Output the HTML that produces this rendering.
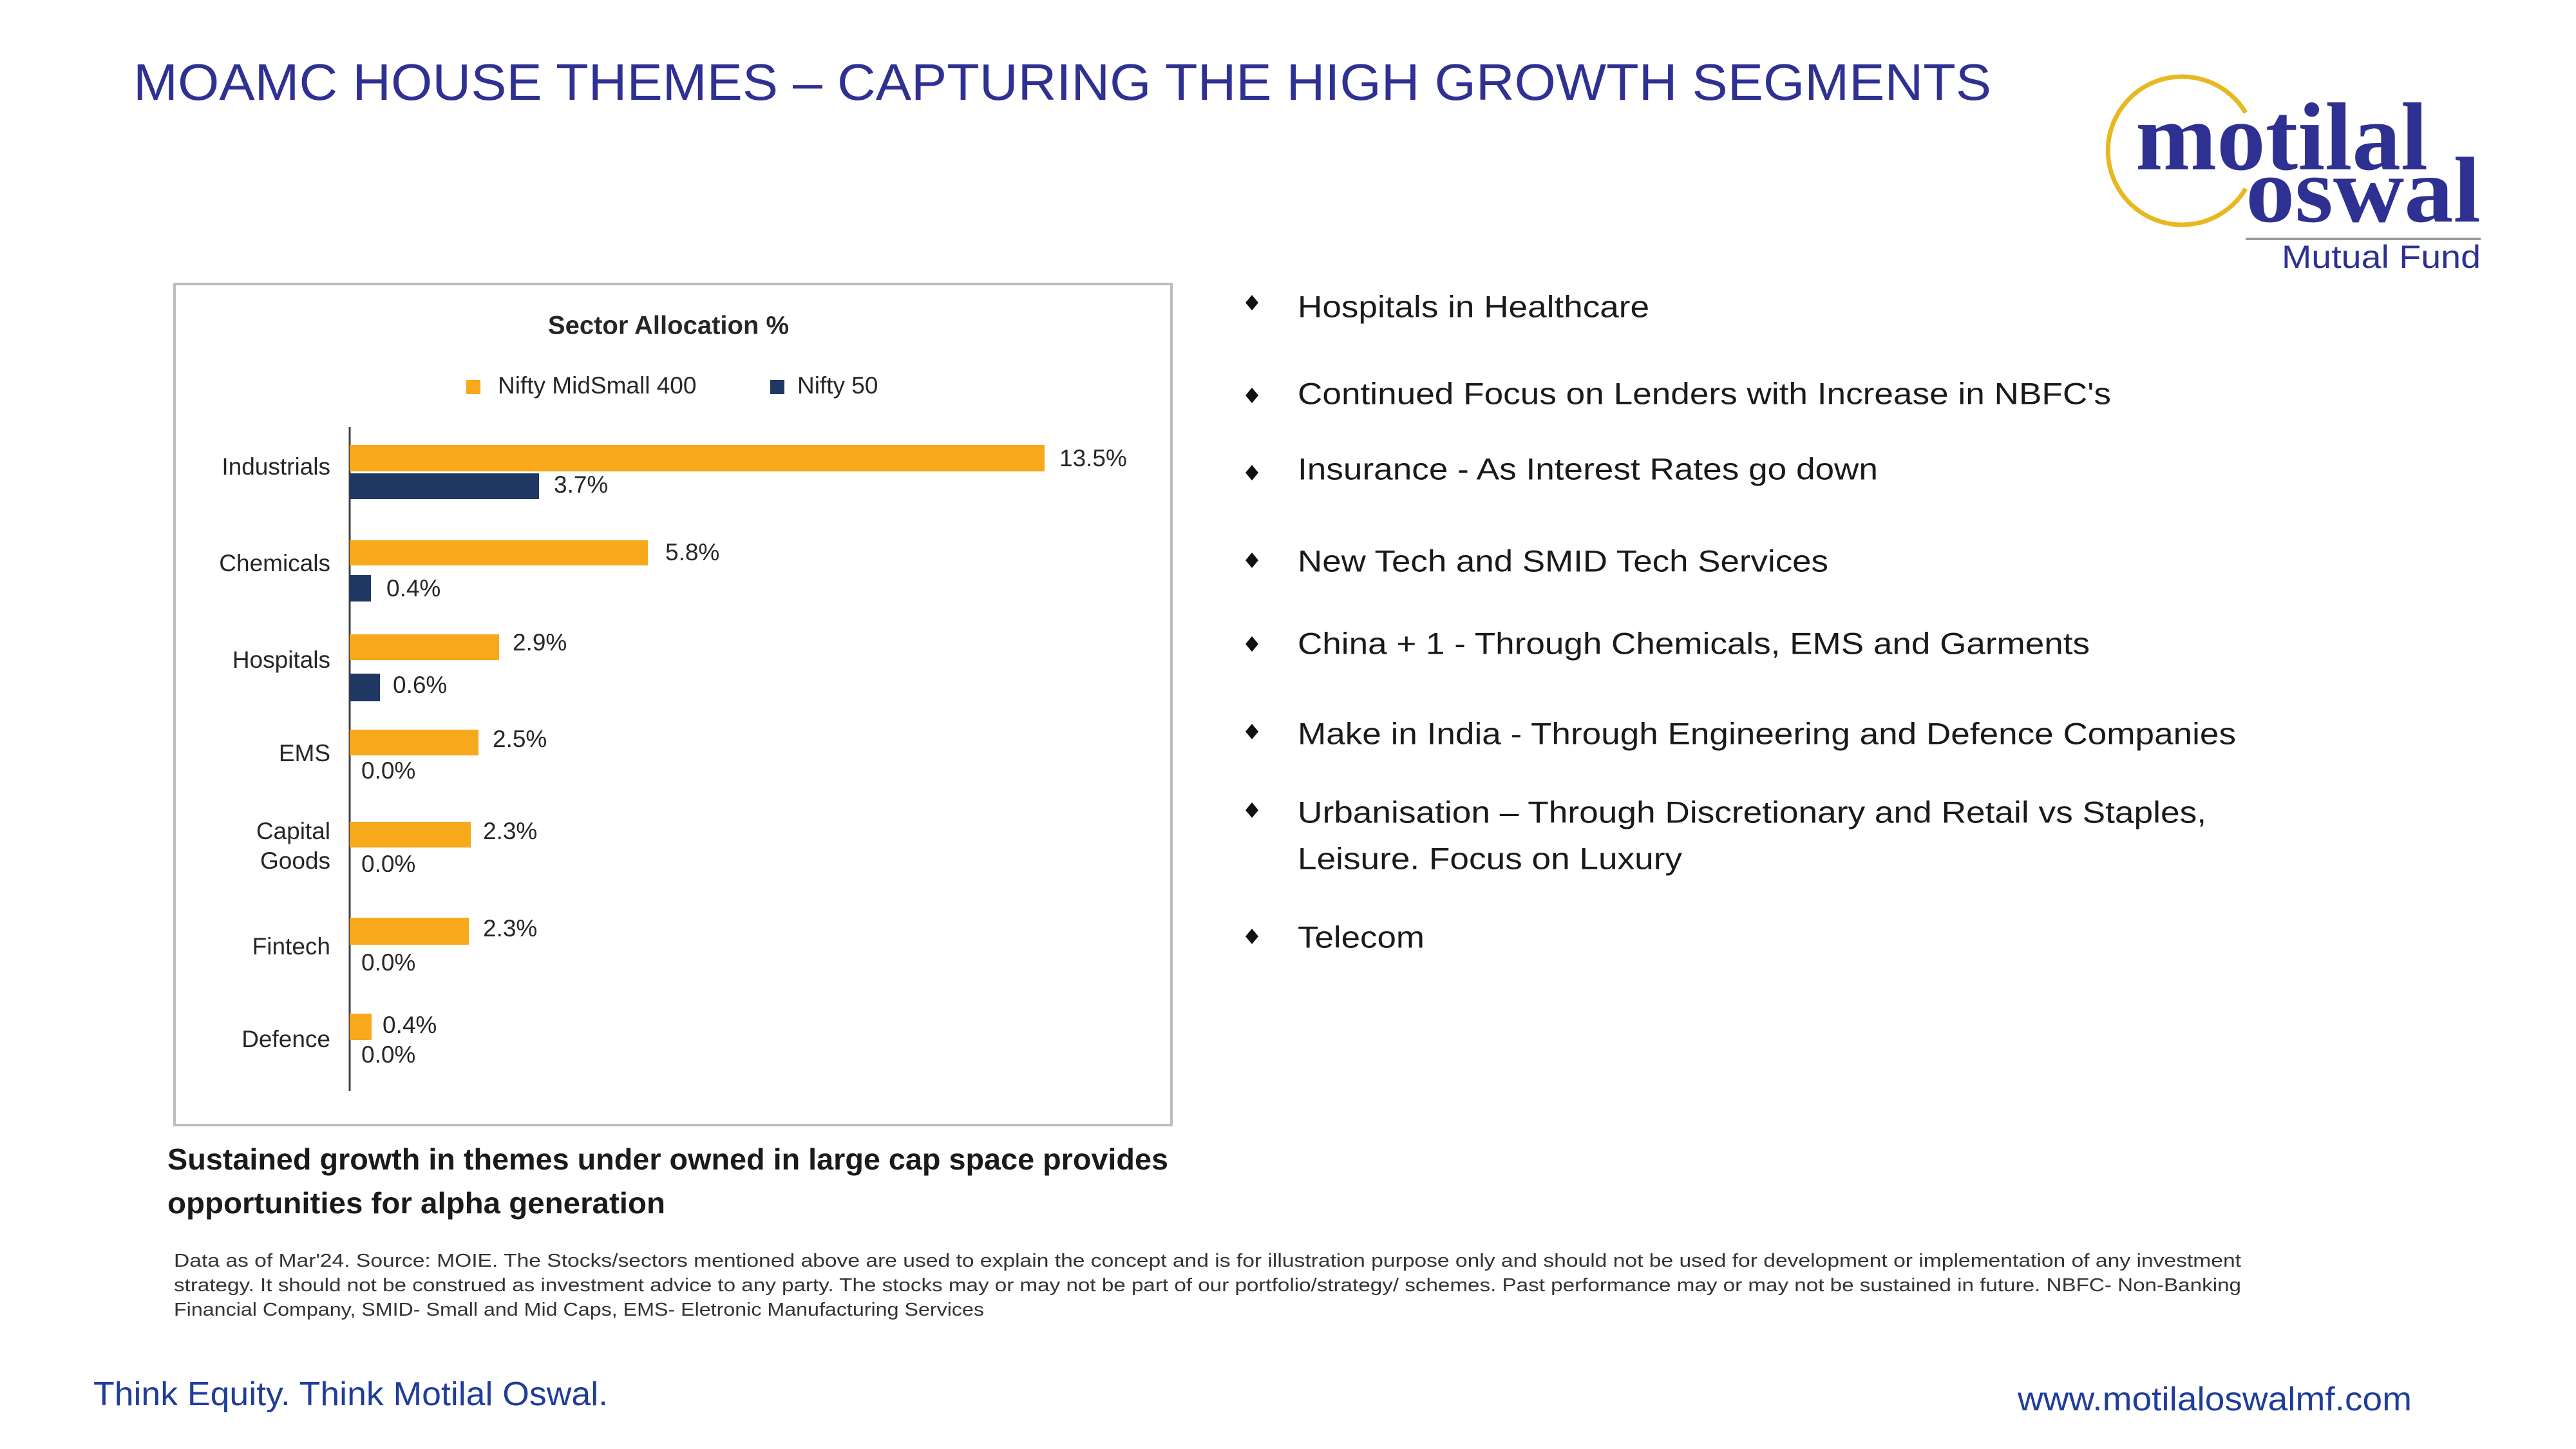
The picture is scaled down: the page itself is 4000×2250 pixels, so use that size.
<!DOCTYPE html>
<html><head><meta charset="utf-8"><style>
html,body{margin:0;padding:0;background:#fff;}
svg{display:block;}
.cat{font-family:"Liberation Sans",sans-serif;font-size:37px;fill:#262626;text-anchor:end;dominant-baseline:middle;}
.val{font-family:"Liberation Sans",sans-serif;font-size:37px;fill:#262626;dominant-baseline:middle;}
.bul{font-family:"Liberation Sans",sans-serif;font-size:47px;fill:#1a1a1a;dominant-baseline:middle;}
</style></head><body>
<svg width="4000" height="2250" viewBox="0 0 4000 2250" xmlns="http://www.w3.org/2000/svg">
<rect width="4000" height="2250" fill="#fff"/>
<text x="207" y="155" font-family="Liberation Sans,sans-serif" font-size="80" fill="#2e3192" textLength="2885" lengthAdjust="spacingAndGlyphs">MOAMC HOUSE THEMES – CAPTURING THE HIGH GROWTH SEGMENTS</text>

<!-- logo -->
<path d="M3487 175 A115 115 0 1 0 3487 293" fill="none" stroke="#e8b820" stroke-width="7"/>
<text x="3316" y="263" font-family="Liberation Serif,serif" font-weight="bold" font-size="150" fill="#2e3192" textLength="454" lengthAdjust="spacingAndGlyphs">motilal</text>
<text x="3487" y="344" font-family="Liberation Serif,serif" font-weight="bold" font-size="145" fill="#2e3192" textLength="365" lengthAdjust="spacingAndGlyphs">oswal</text>
<rect x="3487" y="369" width="365" height="4" fill="#9a9a9a"/>
<text x="3543" y="416" font-family="Liberation Sans,sans-serif" font-size="50" fill="#2e3192" textLength="309" lengthAdjust="spacingAndGlyphs">Mutual Fund</text>

<!-- chart -->
<rect x="271" y="441" width="1548" height="1306" fill="#fff" stroke="#bdbdbd" stroke-width="4"/>
<text x="1038" y="508" font-family="Liberation Sans,sans-serif" font-weight="bold" font-size="40" fill="#262626" text-anchor="middle" dominant-baseline="middle">Sector Allocation %</text>
<rect x="724" y="590" width="22" height="22" fill="#f7a81b"/>
<text x="773" y="601" class="val" font-size="42">Nifty MidSmall 400</text>
<rect x="1196" y="590" width="22" height="22" fill="#1f3864"/>
<text x="1238" y="601" class="val" font-size="42">Nifty 50</text>
<line x1="543" y1="663" x2="543" y2="1694" stroke="#404040" stroke-width="3"/>

<rect x="543" y="691" width="1079" height="41" fill="#f7a81b"/>
<rect x="543" y="735" width="294" height="40" fill="#1f3864"/>
<rect x="543" y="839" width="463" height="39" fill="#f7a81b"/>
<rect x="543" y="893" width="33" height="41" fill="#1f3864"/>
<rect x="543" y="985" width="232" height="40" fill="#f7a81b"/>
<rect x="543" y="1046" width="47" height="43" fill="#1f3864"/>
<rect x="543" y="1133" width="200" height="40" fill="#f7a81b"/>
<rect x="543" y="1276" width="188" height="40" fill="#f7a81b"/>
<rect x="543" y="1425" width="185" height="42" fill="#f7a81b"/>
<rect x="543" y="1574" width="34" height="41" fill="#f7a81b"/>

<text class="cat" x="513" y="727">Industrials</text>
<text class="cat" x="513" y="877">Chemicals</text>
<text class="cat" x="513" y="1027">Hospitals</text>
<text class="cat" x="513" y="1172">EMS</text>
<text class="cat" x="513" y="1293">Capital</text>
<text class="cat" x="513" y="1339">Goods</text>
<text class="cat" x="513" y="1472">Fintech</text>
<text class="cat" x="513" y="1616">Defence</text>

<text class="val" x="1645" y="714">13.5%</text>
<text class="val" x="860" y="755">3.7%</text>
<text class="val" x="1033" y="860">5.8%</text>
<text class="val" x="600" y="916">0.4%</text>
<text class="val" x="796" y="1000">2.9%</text>
<text class="val" x="610" y="1066">0.6%</text>
<text class="val" x="765" y="1150">2.5%</text>
<text class="val" x="561" y="1199">0.0%</text>
<text class="val" x="750" y="1293">2.3%</text>
<text class="val" x="561" y="1344">0.0%</text>
<text class="val" x="750" y="1444">2.3%</text>
<text class="val" x="561" y="1497">0.0%</text>
<text class="val" x="594" y="1594">0.4%</text>
<text class="val" x="561" y="1640">0.0%</text>

<!-- bullets -->
<g fill="#111">
<path d="M1944 458 l10 12 -10 12 -10 -12z"/>
<path d="M1944 602 l10 12 -10 12 -10 -12z"/>
<path d="M1944 722 l10 12 -10 12 -10 -12z"/>
<path d="M1944 858 l10 12 -10 12 -10 -12z"/>
<path d="M1944 988 l10 12 -10 12 -10 -12z"/>
<path d="M1944 1124 l10 12 -10 12 -10 -12z"/>
<path d="M1944 1246 l10 12 -10 12 -10 -12z"/>
<path d="M1944 1442 l10 12 -10 12 -10 -12z"/>
</g>
<text class="bul" x="2015" y="480" textLength="546" lengthAdjust="spacingAndGlyphs">Hospitals in Healthcare</text>
<text class="bul" x="2015" y="615" textLength="1263" lengthAdjust="spacingAndGlyphs">Continued Focus on Lenders with Increase in NBFC's</text>
<text class="bul" x="2015" y="732" textLength="901" lengthAdjust="spacingAndGlyphs">Insurance - As Interest Rates go down</text>
<text class="bul" x="2015" y="875" textLength="824" lengthAdjust="spacingAndGlyphs">New Tech and SMID Tech Services</text>
<text class="bul" x="2015" y="1003" textLength="1230" lengthAdjust="spacingAndGlyphs">China + 1 - Through Chemicals, EMS and Garments</text>
<text class="bul" x="2015" y="1143" textLength="1457" lengthAdjust="spacingAndGlyphs">Make in India - Through Engineering and Defence Companies</text>
<text class="bul" x="2015" y="1265" textLength="1411" lengthAdjust="spacingAndGlyphs">Urbanisation – Through Discretionary and Retail vs Staples,</text>
<text class="bul" x="2015" y="1337" textLength="597" lengthAdjust="spacingAndGlyphs">Leisure. Focus on Luxury</text>
<text class="bul" x="2015" y="1459" textLength="197" lengthAdjust="spacingAndGlyphs">Telecom</text>

<!-- caption -->
<text x="260" y="1804" font-family="Liberation Sans,sans-serif" font-weight="bold" font-size="46" fill="#1a1a1a" dominant-baseline="middle" textLength="1554" lengthAdjust="spacingAndGlyphs">Sustained growth in themes under owned in large cap space provides</text>
<text x="260" y="1872" font-family="Liberation Sans,sans-serif" font-weight="bold" font-size="46" fill="#1a1a1a" dominant-baseline="middle" textLength="773" lengthAdjust="spacingAndGlyphs">opportunities for alpha generation</text>

<g font-family="Liberation Sans,sans-serif" font-size="29" fill="#333">
<text x="270" y="1967" textLength="3210" lengthAdjust="spacingAndGlyphs">Data as of Mar'24. Source: MOIE. The Stocks/sectors mentioned above are used to explain the concept and is for illustration purpose only and should not be used for development or implementation of any investment</text>
<text x="270" y="2005" textLength="3210" lengthAdjust="spacingAndGlyphs">strategy. It should not be construed as investment advice to any party. The stocks may or may not be part of our portfolio/strategy/ schemes. Past performance may or may not be sustained in future. NBFC- Non-Banking</text>
<text x="270" y="2043" textLength="1258" lengthAdjust="spacingAndGlyphs">Financial Company, SMID- Small and Mid Caps, EMS- Eletronic Manufacturing Services</text>
</g>

<text x="145" y="2182" font-family="Liberation Sans,sans-serif" font-size="52" fill="#1f3d99" textLength="799" lengthAdjust="spacingAndGlyphs">Think Equity. Think Motilal Oswal.</text>
<text x="3133" y="2190" font-family="Liberation Sans,sans-serif" font-size="52" fill="#1f3d99" textLength="612" lengthAdjust="spacingAndGlyphs">www.motilaloswalmf.com</text>
</svg>
</body></html>
